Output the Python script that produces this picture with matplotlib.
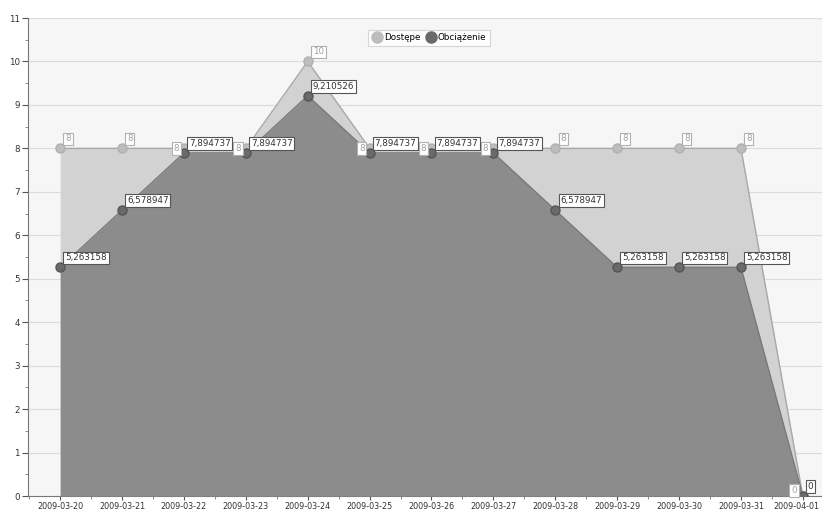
import matplotlib
matplotlib.use("Agg")
import matplotlib.pyplot as plt
from matplotlib.lines import Line2D
from matplotlib.ticker import MultipleLocator
import matplotlib.transforms as mtransforms
import numpy as np

dates = ["2009-03-20", "2009-03-21", "2009-03-22", "2009-03-23", "2009-03-24",
         "2009-03-25", "2009-03-26", "2009-03-27", "2009-03-28", "2009-03-29",
         "2009-03-30", "2009-03-31", "2009-04-01"]
dostepne = [8, 8, 8, 8, 10, 8, 8, 8, 8, 8, 8, 8, 0]
obciazenie = [5.263158, 6.578947, 7.894737, 7.894737, 9.210526, 7.894737,
              7.894737, 7.894737, 6.578947, 5.263158, 5.263158, 5.263158, 0]
# label placement for Dostępne labels: 'ur' upper right, 'l' left
dost_place = ['ur', 'ur', 'l', 'l', 'ur', 'l', 'l', 'l', 'ur', 'ur', 'ur', 'ur', 'lb']

plt.rcParams['font.family'] = ['DejaVu Sans']
fig = plt.figure(figsize=(8.22, 5.11), dpi=100)
ax = fig.add_axes([28/822, 1-496/511, 1-28/822, (496-18)/511])
ax.set_facecolor('#f6f6f6')

x = np.arange(len(dates))
ax.fill_between(x, 0, dostepne, color='#d2d2d2', zorder=2, lw=0)
ax.plot(x, dostepne, color='#a8a8a8', lw=1, zorder=2.5)
ax.fill_between(x, 0, obciazenie, color='#8c8c8c', zorder=3, lw=0)
ax.plot(x, obciazenie, color='#7a7a7a', lw=1, zorder=3.5)
ax.plot(x, dostepne, 'o', ms=6.5, color='#bdbdbd', mec='#b0b0b0', zorder=4)
ax.plot(x, obciazenie, 'o', ms=6.5, color='#6a6a6a', mec='#555555', zorder=5)

def fmt(v):
    if float(v).is_integer():
        return str(int(v))
    return f"{v:.6f}".replace('.', ',')

for xi, v, p in zip(x, dostepne, dost_place):
    if p == 'ur':
        off, ha, va = (5, 5), 'left', 'bottom'
    elif p == 'l':
        off, ha, va = (-5, 0), 'right', 'center'
    else:
        off, ha, va = (-6, 1), 'right', 'bottom'
    ax.annotate(fmt(v), (xi, v), xytext=off, textcoords='offset pixels',
                ha=ha, va=va, fontsize=6.3, color='#a0a0a0', zorder=6,
                bbox=dict(boxstyle='square,pad=0.2', fc='white', ec='#b0b0b0', lw=0.8))
for xi, v in zip(x, obciazenie):
    ax.annotate(fmt(v), (xi, v), xytext=(5, 5), textcoords='offset pixels',
                ha='left', va='bottom', fontsize=6.3, color='#333333', zorder=7,
                bbox=dict(boxstyle='square,pad=0.2', fc='white', ec='#555555', lw=0.8))

ax.set_xlim(-0.52, 12.31)
ax.set_ylim(0, 11)
ax.set_xticks(x)
ax.set_xticklabels(dates, fontsize=5.8, color='#333333')
ax.set_yticks(range(0, 12))
ax.tick_params(axis='y', labelsize=6.3, colors='#555555', labelcolor='#333333', length=4, pad=2)
ax.tick_params(axis='x', colors='#555555', labelcolor='#333333', length=3, pad=1)
ax.yaxis.set_minor_locator(MultipleLocator(0.5))
ax.xaxis.set_minor_locator(MultipleLocator(0.5))
ax.tick_params(which='minor', length=2, colors='#777777')
ax.grid(axis='y', color='#dcdcdc', lw=0.8, zorder=1)
ax.set_axisbelow(True)
for s in ['top', 'right']:
    ax.spines[s].set_visible(False)
for s in ['left', 'bottom']:
    ax.spines[s].set_color('#777777')
last = ax.get_xticklabels()[-1]
last.set_transform(last.get_transform() + mtransforms.ScaledTranslation(-6/100, 0, fig.dpi_scale_trans))

handles = [Line2D([], [], marker='o', ls='', ms=8, color='#bdbdbd'),
           Line2D([], [], marker='o', ls='', ms=8, color='#6a6a6a')]
leg = ax.legend(handles, ['Dostępe', 'Obciążenie'], loc='upper center',
                bbox_to_anchor=(0.505, 0.985), ncol=2, fontsize=6.3, frameon=True,
                fancybox=False, edgecolor='#cccccc', handletextpad=0.2,
                columnspacing=0.6, borderpad=0.4, handlelength=1.2)
leg.get_frame().set_linewidth(0.8)

fig.savefig('out.png', dpi=100)
